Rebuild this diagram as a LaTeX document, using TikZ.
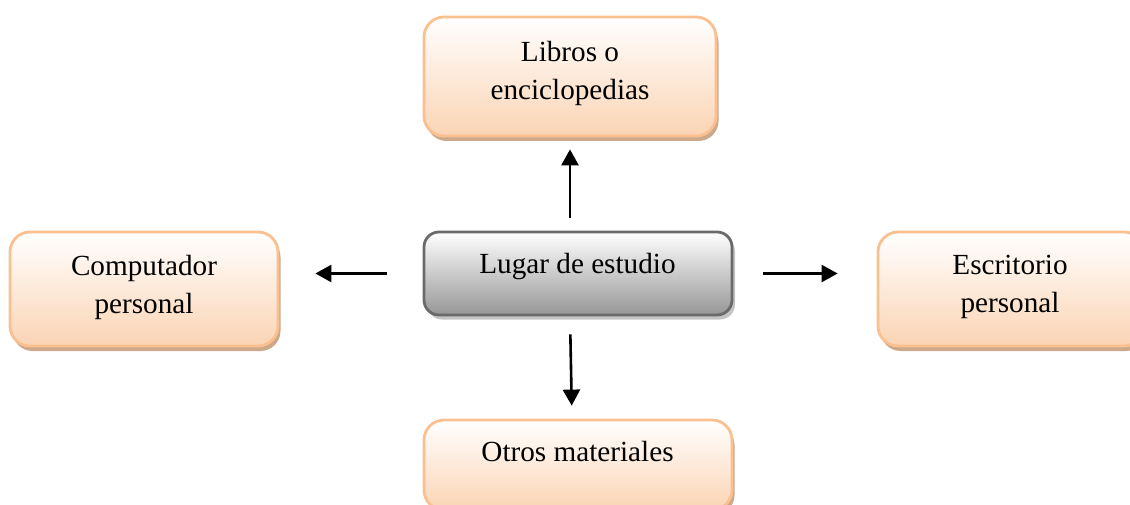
\documentclass[tikz,border=0pt]{standalone}
\usepackage{fontspec}
\setmainfont{Liberation Serif}
\usetikzlibrary{arrows.meta,shadows}
\definecolor{peachline}{HTML}{FAC090}
\definecolor{peachfill}{HTML}{FBD4B4}
\definecolor{peachshadow}{HTML}{CDA98C}
\definecolor{greyline}{HTML}{6A6A6A}
\definecolor{greyfill}{HTML}{969696}
\definecolor{greyshadow}{HTML}{C4C4C4}
\tikzset{
  peachbox/.style={rectangle, rounded corners=20pt, inner sep=0pt, line width=2.8pt,
    draw=peachline, top color=white, bottom color=peachfill,
    general shadow={fill=peachshadow, shadow xshift=2.5pt, shadow yshift=-5pt}},
  greybox/.style={rectangle, rounded corners=15pt, inner sep=0pt, line width=2.8pt,
    draw=greyline, top color=white, bottom color=greyfill,
    general shadow={fill=greyshadow, shadow xshift=3pt, shadow yshift=-4.5pt}},
  boxtext/.style={inner sep=0pt, align=center, font=\fontsize{29.2}{38}\selectfont, text=black},
  arrowline/.style={line width=2.6pt, -{Triangle[length=16pt,width=17pt]}}
}
\begin{document}
\begin{tikzpicture}[x=1pt,y=-1pt]
  \useasboundingbox (0,0) rectangle (1130,505);
  \clip (0,0) rectangle (1130,505);
  \node[peachbox, minimum width=292pt, minimum height=119pt] (top) at (570,76.5) {};
  \node[greybox, minimum width=308pt, minimum height=83pt] (centre) at (578,273.5) {};
  \node[peachbox, minimum width=268pt, minimum height=114pt] (left) at (144,289) {};
  \node[peachbox, minimum width=266pt, minimum height=114pt] (right) at (1011,289) {};
  \node[peachbox, minimum width=308pt, minimum height=90pt] (bottom) at (578,465) {};

  \node[boxtext] (toptext) at (570,73) {Libros o\\enciclopedias};
  \node[boxtext] (centretext) at (577.5,267) {Lugar de estudio};
  \node[boxtext] (lefttext) at (144,287) {Computador\\personal};
  \node[boxtext] (righttext) at (1010,287) {Escritorio\\personal};
  \node[boxtext] (bottomtext) at (577.5,452) {Otros materiales};

  \draw[arrowline, shorten <=13pt, shorten >=12pt] (centre.north -| top.south) -- (top.south);
  \draw[arrowline, shorten <=36pt, shorten >=36pt] (centre.west) -- (centre.west -| left.east);
  \draw[arrowline, shorten <=30pt, shorten >=39pt] (centre.east) -- (centre.east -| right.west);
  \draw[arrowline, shorten <=18pt, shorten >=13pt] ([xshift=-8pt]centre.south) -- ([xshift=-6pt]bottom.north);
\end{tikzpicture}
\end{document}
